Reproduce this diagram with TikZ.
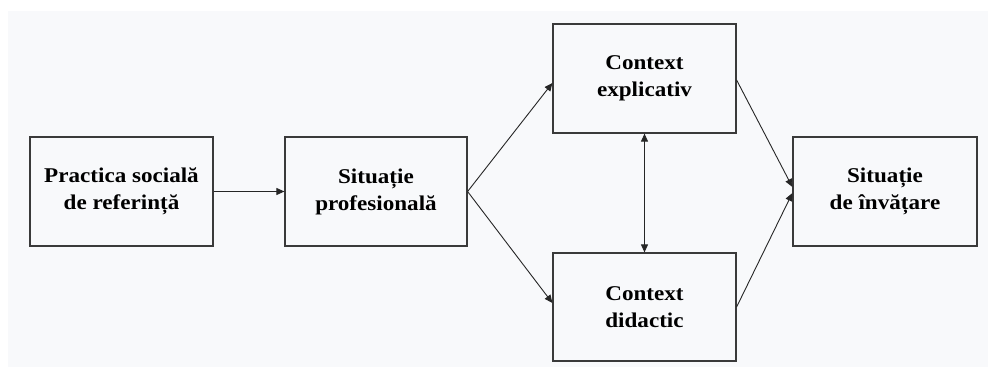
\documentclass[tikz,border=0pt]{standalone}
\usepackage{fontspec}
\setmainfont{Liberation Serif}[FakeStretch=1.1]
\usetikzlibrary{arrows.meta}
\definecolor{bgc}{HTML}{F8F9FB}
\definecolor{edge}{HTML}{3A3A3A}
\begin{document}
\begin{tikzpicture}[x=1pt,y=-1pt,
  box/.style={draw=edge, line width=1.2pt, inner sep=0pt, align=center,
    font=\bfseries\fontsize{21}{27}\selectfont, minimum height=109pt, minimum width=183pt},
  conn/.style={draw=black!85, line width=0.9pt, -{Triangle[length=8pt,width=7pt]}},
  dconn/.style={draw=black!85, line width=0.9pt, {Triangle[length=8pt,width=7pt]}-{Triangle[length=8pt,width=7pt]}}]
\useasboundingbox (0,0) rectangle (988,367);
\fill[white] (0,0) rectangle (988,367);
\fill[bgc] (8,11) rectangle (988,367);
\node[box] (a) at (121.5,191.5) {Practica socială\\de referință};
\node[box, minimum width=182pt] (b) at (376,191.5) {Situație\\profesională};
\node[box] (c) at (644.5,78.5) {Context\\explicativ};
\node[box, minimum height=108pt] (d) at (644.5,307) {Context\\didactic};
\node[box, minimum width=184pt] (e) at (885,191.5) {Situație\\de învățare};
\draw[conn] (a.east) -- (b.west);
\draw[conn] (b.east) -- ([yshift=-4.5pt]c.west);
\draw[conn] (b.east) -- ([yshift=4pt]d.west);
\draw[conn] ([yshift=-1.5pt]c.east) -- ([yshift=4.5pt]e.west);
\draw[conn] (d.east) -- ([yshift=-1.5pt]e.west);
\draw[dconn] (c.south) -- (d.north);
\end{tikzpicture}
\end{document}
